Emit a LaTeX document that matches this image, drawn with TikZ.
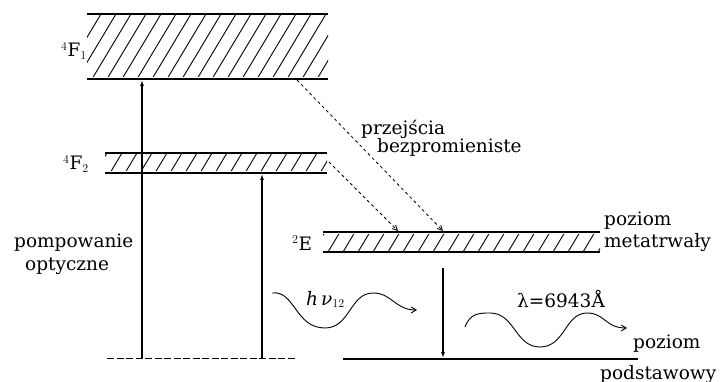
\documentclass[tikz,border=0pt]{standalone}
\usepackage{fontspec}
\setmainfont{DejaVu Serif}
\usetikzlibrary{arrows.meta}
\newcommand{\lbfont}{\fontsize{18.5}{20}\selectfont}
\tikzset{
  band/.style={line width=1.6pt},
  hatch/.style={line width=0.9pt},
  pump/.style={line width=1.1pt, -{Latex[length=6pt,width=4pt]}},
  relax/.style={line width=0.8pt, dash pattern=on 3pt off 3pt, -{Straight Barb[length=5pt,width=5pt]}},
  wave/.style={line width=0.9pt, -{Straight Barb[length=5pt,width=6pt]}},
  ground/.style={line width=1.1pt},
  lbl/.style={font=\lbfont, inner sep=0pt, anchor=base west}
}

\begin{document}
\begin{tikzpicture}[x=1pt,y=-1pt]
  \useasboundingbox (0,0) rectangle (725,382);

  % energy bands
  \coordinate (f1tl) at (87,14);  \coordinate (f1tr) at (328,14);
  \coordinate (f1bl) at (87,79);  \coordinate (f1br) at (328,79);
  \coordinate (f2tl) at (105,153); \coordinate (f2tr) at (327,153);
  \coordinate (f2bl) at (105,173); \coordinate (f2br) at (327,173);
  \coordinate (etl) at (323,232); \coordinate (etr) at (600,232);
  \coordinate (ebl) at (323,252); \coordinate (ebr) at (600,252);

  \begin{scope}
    \clip (87,16) rectangle (328,77);
    \foreach \i in {47,62,...,330} \draw[hatch] (\i,79) -- ++(39,-65);
  \end{scope}
  \begin{scope}
    \clip (105,155) rectangle (327,171);
    \foreach \i in {95,110,...,330} \draw[hatch] (\i,173) -- ++(12,-20);
  \end{scope}
  \begin{scope}
    \clip (323,234) rectangle (600,250);
    \foreach \i in {313,328,...,600} \draw[hatch] (\i,252) -- ++(12,-20);
  \end{scope}

  \draw[band] (f1tl) -- (f1tr);
  \draw[band] (f1bl) -- (f1br);
  \draw[band] (f2tl) -- (f2tr);
  \draw[band] (f2bl) -- (f2br);
  \draw[band] (etl) -- (etr);
  \draw[band] (ebl) -- (ebr);

  % ground levels
  \coordinate (gl) at (107,358); \coordinate (gr) at (295,358);
  \coordinate (sl) at (343,359); \coordinate (sr) at (638,359);
  \draw[line width=1pt, dash pattern=on 7pt off 2.5pt] (gl) -- (gr);
  \draw[ground] (sl) -- (sr);

  % optical pumping
  \coordinate (p1s) at (142,358); \coordinate (p1e) at (142,80);
  \coordinate (p2s) at (262,358); \coordinate (p2e) at (262,174);
  \draw[pump] (p1s) -- (p1e);
  \draw[pump] (p2s) -- (p2e);

  % radiationless transitions
  \coordinate (r1s) at (297,80);  \coordinate (r1e) at (443,231);
  \coordinate (r2s) at (329,162); \coordinate (r2e) at (398,231);
  \draw[relax] (r1s) -- (r1e);
  \draw[relax] (r2s) -- (r2e);

  % laser transition
  \coordinate (ds) at (443,268); \coordinate (de) at (443,358);
  \draw[pump] (ds) -- (de);

  % photons
  \coordinate (w1s) at (272,293); \coordinate (w1e) at (417,310);
  \draw[wave] (w1s) .. controls (295,290) and (295,328) .. (325,328)
    .. controls (350,328) and (350,293) .. (373,293)
    .. controls (392,293) and (395,310) .. (w1e);
  \coordinate (w2s) at (465,327); \coordinate (w2e) at (627,328);
  \draw[wave] (w2s) .. controls (470,313) and (480,313) .. (490,313)
    .. controls (515,313) and (515,347) .. (540,347)
    .. controls (565,347) and (565,313) .. (587,313)
    .. controls (605,313) and (605,328) .. (w2e);

  % labels
  \node[lbl] (lf1) at (61,57) {$^{\scriptstyle 4}$F$_{\scriptstyle 1}$};
  \node[lbl] (lf2) at (63,170) {$^{\scriptstyle 4}$F$_{\scriptstyle 2}$};
  \node[lbl] (le) at (292,250) {$^{\scriptstyle 2}$E};
  \node[lbl] (pomp) at (14,247) {pompowanie};
  \node[lbl] (opt) at (25,270) {optyczne};
  \node[lbl] (prz) at (361,135) {przejścia};
  \node[lbl] (bez) at (377,153) {bezpromieniste};
  \node[lbl] (poz1) at (604,225) {poziom};
  \node[lbl] (meta) at (604,247) {metatrwały};
  \node[lbl] (poz2) at (633,348) {poziom};
  \node[lbl] (pods) at (600,379) {podstawowy};
  \node[lbl] (lam) at (517,307) {λ=6943Å};
  \node[lbl] (hnu) at (306,305) {\textit{h}\,\textit{ν}$_{\scriptstyle 12}$};
\end{tikzpicture}
\end{document}
